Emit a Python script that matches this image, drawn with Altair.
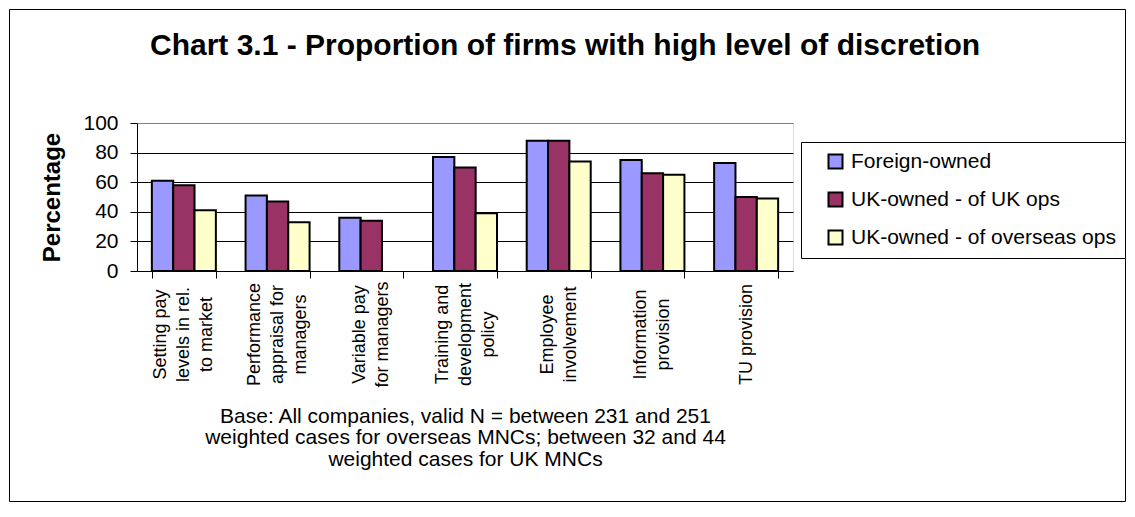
import altair as alt
import pandas as pd

# ---- data ----
categories = [
    "Setting pay|levels in rel.|to market",
    "Performance|appraisal for|managers",
    "Variable pay|for managers",
    "Training and|development|policy",
    "Employee|involvement",
    "Information|provision",
    "TU provision",
]
series = ["Foreign-owned", "UK-owned - of UK ops", "UK-owned - of overseas ops"]
foreign_owned = [61, 51, 36, 77, 88, 75, 73]
uk_of_uk_ops = [58, 47, 34, 70, 88, 66, 50]
uk_of_overseas_ops = [41, 33, None, 39, 74, 65, 49]
colors = ["#9999FF", "#993366", "#FFFFCC"]
y_ticks = [0, 20, 40, 60, 80, 100]
caption = [
    "Base: All companies, valid N = between 231 and 251",
    "weighted cases for overseas MNCs; between 32 and 44",
    "weighted cases for UK MNCs",
]
title_text = "Chart 3.1 - Proportion of firms with high level of discretion"

rows = []
for s, vals in zip(series, [foreign_owned, uk_of_uk_ops, uk_of_overseas_ops]):
    for c, v in zip(categories, vals):
        if v is not None:
            rows.append({"category": c, "series": s, "value": v})
df = pd.DataFrame(rows)

FONT = "Liberation Sans"
W, H = 656, 148
PAD = {"left": 129, "top": 115, "right": 334, "bottom": 232}
TOTAL_W = PAD["left"] + W + PAD["right"]
TOTAL_H = PAD["top"] + H + PAD["bottom"]
LINE_H = 23

label_offset = {
    "condition": [
        {"test": "length(split(datum.value, '|')) == 3", "value": -LINE_H},
        {"test": "length(split(datum.value, '|')) == 2", "value": -LINE_H / 2},
    ],
    "value": 0,
}
grid_color = {
    "condition": {"test": "datum.value >= 100", "value": "#808080"},
    "value": "black",
}

bars = alt.Chart(df).mark_bar(stroke="black", strokeWidth=2).encode(
    x=alt.X(
        "category:N",
        sort=categories,
        scale=alt.Scale(paddingInner=0.317, paddingOuter=0.1585),
        axis=alt.Axis(
            title=caption,
            titleFont=FONT,
            titleFontSize=21,
            titleFontWeight="normal",
            titleColor="black",
            titleLineHeight=21.5,
            titleX=W / 2,
            titleY=151,
            titleAlign="center",
            titleBaseline="alphabetic",
            labelExpr="split(datum.label, '|')",
            labelAngle=-90,
            labelAlign="center",
            labelBaseline="middle",
            labelFont=FONT,
            labelFontSize=18,
            labelLineHeight=LINE_H,
            labelColor="black",
            labelPadding=56,
            labelOffset=label_offset,
            labelLimit=0,
            tickBand="extent",
            tickSize=7,
            tickColor="black",
            tickWidth=1,
            domainColor="black",
            domainWidth=1,
            grid=False,
        ),
    ),
    xOffset=alt.XOffset("series:N", sort=series,
                        scale=alt.Scale(paddingInner=0, paddingOuter=0)),
    y=alt.Y(
        "value:Q",
        scale=alt.Scale(domain=[0, 100], nice=False),
        axis=alt.Axis(
            values=y_ticks,
            title="Percentage",
            titleFont=FONT,
            titleFontSize=24,
            titleFontWeight="bold",
            titleColor="black",
            titleAngle=-90,
            titleX=-85,
            titleY=H / 2,
            titleAlign="center",
            titleBaseline="middle",
            labelFont=FONT,
            labelFontSize=21,
            labelColor="black",
            labelPadding=12,
            tickSize=7,
            tickColor="black",
            domainColor="black",
            grid=True,
            gridColor=grid_color,
            gridWidth=1,
        ),
    ),
    color=alt.Color(
        "series:N",
        sort=series,
        scale=alt.Scale(domain=series, range=colors),
        legend=alt.Legend(
            title=None,
            orient="none",
            legendX=664,
            legendY=19,
            direction="vertical",
            strokeColor="black",
            fillColor="white",
            padding=9,
            symbolType="square",
            symbolSize=196,
            symbolStrokeColor="black",
            symbolStrokeWidth=2,
            symbolOpacity=1,
            symbolOffset=15,
            labelFont=FONT,
            labelFontSize=21,
            labelColor="black",
            labelOffset=5,
            labelLimit=0,
            rowPadding=15,
        ),
    ),
)

frame = alt.Chart(alt.Data(values=[{"k": 1}])).mark_rect(
    filled=False, stroke="black", strokeWidth=1
).encode(
    x=alt.value(-PAD["left"] + 1.5),
    x2=alt.value(TOTAL_W - PAD["left"] - 1.5),
    y=alt.value(-PAD["top"] + 1.5),
    y2=alt.value(TOTAL_H - PAD["top"] - 1.5),
)

title = alt.Chart(alt.Data(values=[{"t": title_text}])).mark_text(
    font=FONT, fontSize=30, fontWeight="bold", color="black",
    align="center", baseline="alphabetic",
).encode(
    text="t:N",
    x=alt.value(428),
    y=alt.value(-68),
)

chart = alt.layer(bars, frame, title).properties(
    width=W,
    height=H,
    autosize=alt.AutoSizeParams(type="none"),
    padding=PAD,
).configure_view(
    fill="#C0C0C0", stroke="#808080", strokeWidth=2
).configure(background="white")

chart.save("out.html", embed_options={"renderer": "svg", "actions": False})
